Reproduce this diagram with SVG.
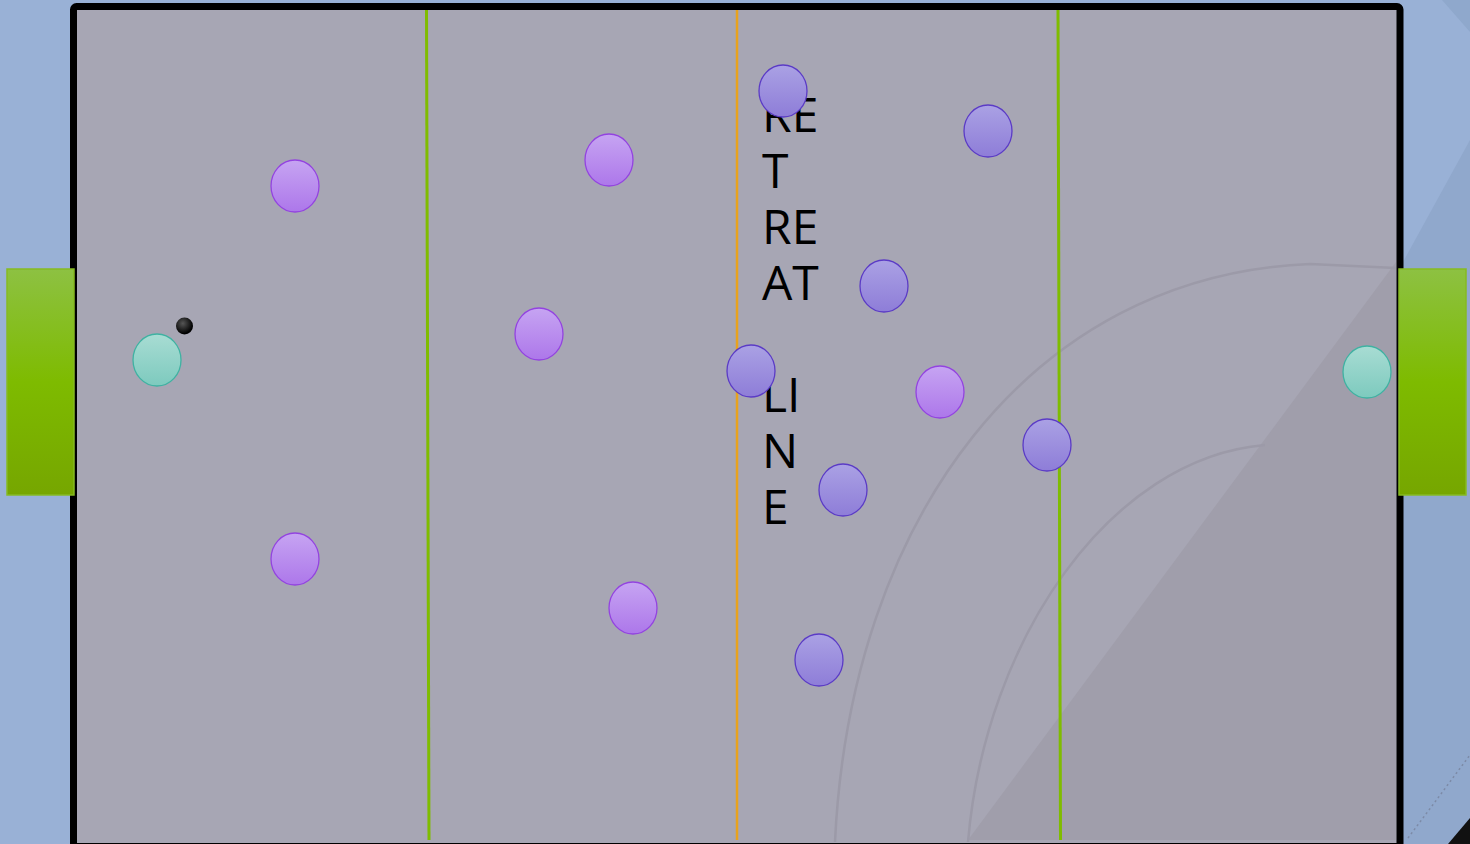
<svg xmlns="http://www.w3.org/2000/svg" width="1470" height="844" viewBox="0 0 1470 844">
<style>
.p1{fill:url(#gPurple);stroke:#9343E0;stroke-width:1.3}
.p2{fill:url(#gBlue);stroke:#5B3BC6;stroke-width:1.3}
.gk{fill:url(#gTeal);stroke:#3FB2A2;stroke-width:1.3}
.goal{fill:url(#gGoal);stroke:#86BA22;stroke-width:1.5}
.arc{fill:none;stroke:#9C9AA8;stroke-width:2.5}
.lbl{font-family:"Open Sans","Noto Sans",sans-serif;font-size:48px;fill:#000}
</style>
<defs>
<linearGradient id="gPurple" x1="0" y1="0" x2="0" y2="1"><stop offset="0" stop-color="#C6A4F2"/><stop offset="1" stop-color="#AD77EA"/></linearGradient>
<linearGradient id="gBlue" x1="0" y1="0" x2="0" y2="1"><stop offset="0" stop-color="#AAA1E4"/><stop offset="1" stop-color="#8E7DD8"/></linearGradient>
<linearGradient id="gTeal" x1="0" y1="0" x2="0" y2="1"><stop offset="0" stop-color="#A8DCD3"/><stop offset="1" stop-color="#7DCABE"/></linearGradient>
<linearGradient id="gGoal" x1="0" y1="0" x2="0" y2="1"><stop offset="0" stop-color="#8DC142"/><stop offset="0.5" stop-color="#7EBB00"/><stop offset="1" stop-color="#76A600"/></linearGradient>
<radialGradient id="gBall" cx="0.4" cy="0.35" r="0.6"><stop offset="0" stop-color="#555"/><stop offset="1" stop-color="#000"/></radialGradient>
</defs>
<g id="background">
<rect x="0" y="0" width="1470" height="844" fill="#99B1D6"/>
<polygon points="1442,0 1470,0 1470,32" fill="#8FA8CC"/>
<polygon points="1470,140 1403,262 1403,844 1470,844" fill="#90A8CC"/>
<line x1="1408" y1="838" x2="1470" y2="755" stroke="#7C8AA6" stroke-width="1.5" stroke-dasharray="2,3"/>
<polygon points="1448,844 1470,818 1470,844" fill="#111"/>
</g>
<g id="field">
<rect x="73.5" y="6.5" width="1326.5" height="840" rx="3" fill="#A7A6B4" stroke="#000" stroke-width="7"/>
<polygon points="1396,262 1396,840 968,840" fill="#A09EAB"/>
<path class="arc" d="M835,842 C850,520 1030,275 1310,264 L1396,268"/>
<path class="arc" d="M968,842 C985,640 1110,458 1265,445"/>
</g>
<g id="connectors">
<line x1="426.5" y1="10" x2="429" y2="840" stroke="#7FBC00" stroke-width="3"/>
<line x1="737" y1="10" x2="737" y2="840" stroke="#E8A21E" stroke-width="2.5"/>
<line x1="1058" y1="10" x2="1060.5" y2="840" stroke="#7FBC00" stroke-width="3"/>
</g>
<g id="goal-left"><rect class="goal" x="7" y="269" width="67" height="226"/></g>
<g id="goal-right"><rect class="goal" x="1399" y="269" width="67" height="226"/></g>
<g id="retreat-line-label">
<text class="lbl"><tspan x="762" y="132">RE</tspan><tspan x="762" y="188">T</tspan><tspan x="762" y="244">RE</tspan><tspan x="762" y="300">AT</tspan><tspan x="762" y="412">LI</tspan><tspan x="762" y="468">N</tspan><tspan x="762" y="524">E</tspan></text>
</g>
<g id="team-a">
<ellipse id="a1" class="p1" cx="295" cy="186" rx="24" ry="26"/>
<ellipse id="a2" class="p1" cx="609" cy="160" rx="24" ry="26"/>
<ellipse id="a3" class="p1" cx="539" cy="334" rx="24" ry="26"/>
<ellipse id="a4" class="p1" cx="295" cy="559" rx="24" ry="26"/>
<ellipse id="a5" class="p1" cx="633" cy="608" rx="24" ry="26"/>
<ellipse id="a6" class="p1" cx="940" cy="392" rx="24" ry="26"/>
</g>
<g id="team-b">
<ellipse id="b1" class="p2" cx="783" cy="91" rx="24" ry="26"/>
<ellipse id="b2" class="p2" cx="988" cy="131" rx="24" ry="26"/>
<ellipse id="b3" class="p2" cx="884" cy="286" rx="24" ry="26"/>
<ellipse id="b4" class="p2" cx="751" cy="371" rx="24" ry="26"/>
<ellipse id="b5" class="p2" cx="1047" cy="445" rx="24" ry="26"/>
<ellipse id="b6" class="p2" cx="843" cy="490" rx="24" ry="26"/>
<ellipse id="b7" class="p2" cx="819" cy="660" rx="24" ry="26"/>
</g>
<g id="keeper-left"><ellipse class="gk" cx="157" cy="360" rx="24" ry="26"/></g>
<g id="keeper-right"><ellipse class="gk" cx="1367" cy="372" rx="24" ry="26"/></g>
<g id="ball"><circle cx="184.5" cy="326" r="8.5" fill="url(#gBall)"/></g>
</svg>
